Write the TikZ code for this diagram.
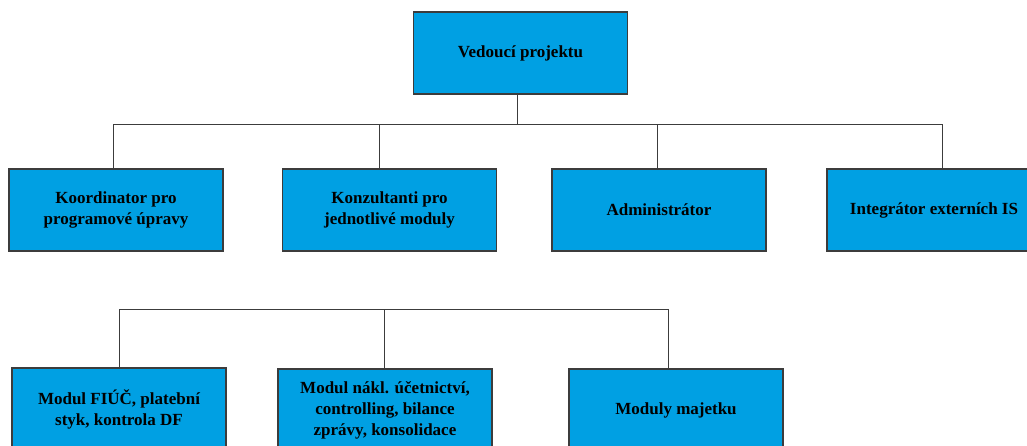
\documentclass[tikz,border=0pt]{standalone}
\usepackage{fontspec}
\setmainfont{Liberation Serif}
\definecolor{boxblue}{RGB}{0,160,227}
\definecolor{edge}{RGB}{60,60,60}
\begin{document}
\begin{tikzpicture}[x=1pt,y=-1pt,
  orgbox/.style={draw=edge,line width=1.2pt,fill=boxblue,rectangle,
    minimum width=214pt,minimum height=82pt,inner sep=0pt,align=center,
    font=\fontsize{17}{21}\selectfont\bfseries,text=black},
  link/.style={draw=edge,line width=1pt}]
\useasboundingbox (0,0) rectangle (1027,445);
\clip (0,0) rectangle (1027,445);
% boxes
\node[orgbox] (top) at (520.5,53) {Vedoucí projektu};
\node[orgbox] (k1) at (116,210) {Koordinator pro\\programové úpravy};
\node[orgbox] (k2) at (389.5,210) {Konzultanti pro\\jednotlivé moduly};
\node[orgbox] (k3) at (659,210) {Administrátor};
\node[orgbox] (k4) at (934,210) {Integrátor externích IS};
\node[orgbox] (m1) at (119,409) {Modul FIÚČ, platební\\styk, kontrola DF};
\node[orgbox] (m2) at (385,410) {Modul nákl. účetnictví,\\controlling, bilance\\zprávy, konsolidace};
\node[orgbox] (m3) at (676,410) {Moduly majetku};
% bus coordinates
\coordinate (t0) at (517,124);
\coordinate (a1) at (113,124);
\coordinate (a2) at (379,124);
\coordinate (a3) at (657,124);
\coordinate (a4) at (942,124);
\coordinate (c1) at (119,309);
\coordinate (c2) at (384,309);
\coordinate (c3) at (668,309);
% connectors
\draw[link] (t0 |- top.south) -- (t0);
\draw[link] (a1) -- (a4);
\draw[link] (a1) -- (a1 |- k1.north);
\draw[link] (a2) -- (a2 |- k2.north);
\draw[link] (a3) -- (a3 |- k3.north);
\draw[link] (a4) -- (a4 |- k4.north);
\draw[link] (c1) -- (c3);
\draw[link] (c1) -- (c1 |- m1.north);
\draw[link] (c2) -- (c2 |- m2.north);
\draw[link] (c3) -- (c3 |- m3.north);
\end{tikzpicture}
\end{document}
